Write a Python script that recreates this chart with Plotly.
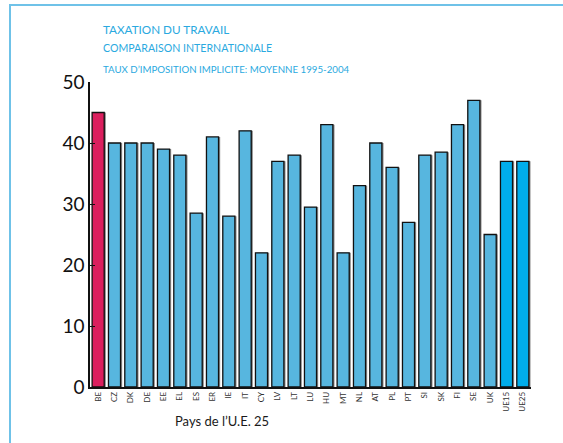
import plotly.graph_objects as go

countries = ["BE", "CZ", "DK", "DE", "EE", "EL", "ES", "ER", "IE", "IT", "CY", "LV", "LT",
             "LU", "HU", "MT", "NL", "AT", "PL", "PT", "SI", "SK", "FI", "SE", "UK", "UE15", "UE25"]
values = [45, 40, 40, 40, 39, 38, 28.5, 41, 28, 42, 22, 37, 38,
          29.5, 43, 22, 33, 40, 36, 27, 38, 38.5, 43, 47, 25, 37, 37]
colors = []
for c in countries:
    if c == "BE":
        colors.append("#db1f5e")
    elif c in ("UE15", "UE25"):
        colors.append("#00adeb")
    else:
        colors.append("#57b6df")

y_ticks = [0, 10, 20, 30, 40, 50]
titles = ["TAXATION DU TRAVAIL", "COMPARAISON INTERNATIONALE",
          "TAUX D\u2019IMPOSITION IMPLICITE: MOYENNE 1995-2004"]
x_title = "Pays de l\u2019U.E. 25"

W, H = 563, 443
L, R, T, B = 90, 32, 82, 56
pw, ph = W - L - R, H - T - B

def px(x):
    return (x - L) / pw

def py(y):
    return (H - B - y) / ph

n = len(countries)
bw = 0.74

fig = go.Figure()
# shadow
fig.add_trace(go.Bar(x=list(range(n)), y=values, width=bw, offset=-bw / 2 + 0.1,
                     marker=dict(color="#8a8a8a", line=dict(width=0)),
                     hoverinfo="skip", showlegend=False))
fig.add_trace(go.Bar(x=list(range(n)), y=values, width=bw, offset=-bw / 2,
                     marker=dict(color=colors, line=dict(color="#111111", width=1.3)),
                     showlegend=False))

fig.update_layout(
    width=W, height=H,
    margin=dict(l=L, r=R, t=T, b=B, pad=0),
    paper_bgcolor="white", plot_bgcolor="white",
    barmode="overlay",
    font=dict(family="Lato, Open Sans, sans-serif", color="#1a1a1a"),
    xaxis=dict(range=[-0.5, n - 0.5], tickmode="array", tickvals=list(range(n)),
               ticktext=countries, tickangle=-90, tickfont=dict(size=8, color="#333333"),
               showline=True, linecolor="#111111", linewidth=1.5, ticks="",
               showgrid=False, zeroline=False, fixedrange=True, automargin=False),
    yaxis=dict(range=[0, 50], tickvals=y_ticks, ticks="inside", ticklen=5,
               tickcolor="#111111", tickwidth=1.3,
               tickfont=dict(size=19, color="#111111"),
               showline=True, linecolor="#111111", linewidth=1.5,
               showgrid=False, zeroline=False, fixedrange=True, automargin=False),
)

title_specs = [(titles[0], 29, 11.7), (titles[1], 48, 10.6), (titles[2], 69, 9.7)]
for txt, ypix, sz in title_specs:
    fig.add_annotation(text=txt, xref="paper", yref="paper", x=px(101), y=py(ypix),
                       xanchor="left", yanchor="middle", showarrow=False,
                       font=dict(size=sz, color="#2aa9e0", family="Lato, Open Sans, sans-serif"))

fig.add_annotation(text=x_title, xref="paper", yref="paper", x=px(222), y=py(421),
                   xanchor="center", yanchor="middle", showarrow=False,
                   font=dict(size=13, color="#1a1a1a", family="Lato, Open Sans, sans-serif"))

# frame border (top and left)
fig.add_shape(type="path", xref="paper", yref="paper",
              path=f"M {px(10)} {py(443)} L {px(10)} {py(5)} L {px(563)} {py(5)}",
              line=dict(color="#6fc2e8", width=2))

fig.write_html("out.html", config={"displayModeBar": False},
               post_script="document.body.style.margin='0';")
